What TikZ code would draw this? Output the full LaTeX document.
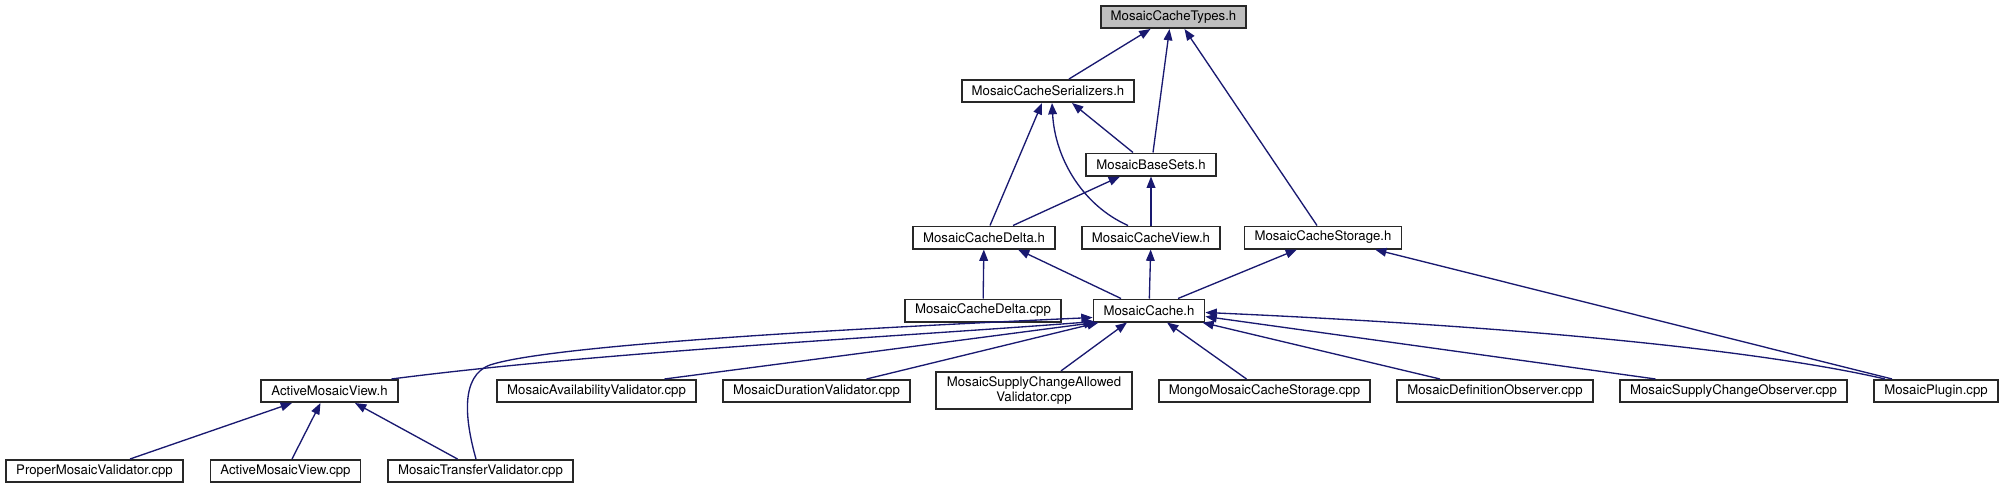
\documentclass[tikz,border=0pt]{standalone}
\usepackage{fontspec}
\setmainfont{TeX Gyre Heros}
\usepackage{tikz}
\usetikzlibrary{arrows.meta,calc}
\definecolor{azulnoche}{RGB}{25,25,112}
\definecolor{borde}{RGB}{40,40,40}
\definecolor{grisraiz}{RGB}{191,191,191}

\begin{document}
\begin{tikzpicture}[x=0.75pt, y=-0.75pt,
  caja/.style={draw=borde, line width=1.4pt, fill=white, minimum height=16.6pt,
               inner xsep=7.5pt, inner ysep=1pt,
               font=\fontsize{9.9pt}{11pt}\selectfont},
  raiz/.style={caja, fill=grisraiz},
  flecha/.style={-{Triangle[length=8.5pt,width=6.5pt]}, line width=1pt,
                 color=azulnoche}]
  \useasboundingbox (0,0) rectangle (2005,489);
  % Cabeceras
  \node[raiz] (tipos) at (1173.5,17) {MosaicCacheTypes.h};
  \node[caja] (serial) at (1048,91) {MosaicCacheSerializers.h};
  \node[caja] (basesets) at (1151,164.5) {MosaicBaseSets.h};
  \node[caja] (deltah) at (984,237.5) {MosaicCacheDelta.h};
  \node[caja] (viewh) at (1151,237.5) {MosaicCacheView.h};
  \node[caja] (storageh) at (1323,237.5) {MosaicCacheStorage.h};
  \node[caja] (deltacpp) at (983,310.5) {MosaicCacheDelta.cpp};
  \node[caja] (cacheh) at (1149,310.5) {MosaicCache.h};
  % Incluyen MosaicCache.h
  \node[caja] (activeh) at (329.5,391) {ActiveMosaicView.h};
  \node[caja] (availability) at (596.5,391) {MosaicAvailabilityValidator.cpp};
  \node[caja] (duration) at (816.5,391) {MosaicDurationValidator.cpp};
  \node[caja, align=center, minimum width=147.3pt, minimum height=28pt]
       (supplyallowed) at (1034,390.5) {MosaicSupplyChangeAllowed\\Validator.cpp};
  \node[caja] (mongo) at (1264.5,391) {MongoMosaicCacheStorage.cpp};
  \node[caja] (definition) at (1495,391) {MosaicDefinitionObserver.cpp};
  \node[caja] (supplyobs) at (1733.5,391) {MosaicSupplyChangeObserver.cpp};
  \node[caja] (plugin) at (1936,391) {MosaicPlugin.cpp};
  % Incluyen ActiveMosaicView.h
  \node[caja] (proper) at (94.5,471) {ProperMosaicValidator.cpp};
  \node[caja] (activecpp) at (285.5,471) {ActiveMosaicView.cpp};
  \node[caja] (transfer) at (480.5,471) {MosaicTransferValidator.cpp};
  % Flechas superiores
  \draw[flecha] ($(serial.north)+(21,0)$) -- ($(tipos.south)+(-23,0)$);
  \draw[flecha] ($(basesets.north)+(2,0)$) -- ($(tipos.south)+(-4,0)$);
  \draw[flecha] ($(storageh.north)+(-6,0)$) -- ($(tipos.south)+(11,0)$);
  \draw[flecha] ($(deltah.north)+(6,0)$) -- ($(serial.south)+(-6,0)$);
  \draw[flecha] ($(viewh.north)+(-23,0)$) .. controls +(-45,-20) and +(3,56)
       .. ($(serial.south)+(4,0)$);
  \draw[flecha] ($(basesets.north)+(-18,0)$) -- ($(serial.south)+(24,0)$);
  \draw[flecha] ($(deltah.north)+(29,0)$) -- ($(basesets.south)+(-31,0)$);
  \draw[flecha] (viewh) -- (basesets);
  \draw[flecha] (deltacpp) -- (deltah);
  \draw[flecha] ($(cacheh.north)+(-28,0)$) -- ($(deltah.south)+(34,0)$);
  \draw[flecha] (cacheh) -- (viewh);
  \draw[flecha] ($(cacheh.north)+(29,0)$) -- ($(storageh.south)+(-26,0)$);
  \draw[flecha] ($(plugin.north)+(-44,0)$) -- ($(storageh.south)+(52,0)$);
  % Flechas hacia MosaicCache.h
  \draw[flecha] ($(activeh.north)+(62,0)$) .. controls +(208,-27) and +(-194,15)
       .. ($(cacheh.south west)+(2,-1)$);
  \draw[flecha] ($(transfer.north)+(-4.5,0)$) .. controls +(-11,-39) and +(-30,11)
       .. (490,365) .. controls +(60,-20) and +(-242,11)
       .. ($(cacheh.south west)+(0,-5)$);
  \draw[flecha] ($(availability.north)+(68,0)$) -- ($(cacheh.south west)+(3,0)$);
  \draw[flecha] ($(duration.north)+(50,0)$) -- ($(cacheh.south west)+(6,0)$);
  \draw[flecha] ($(supplyallowed.north)+(27,0)$) -- ($(cacheh.south)+(-22,0)$);
  \draw[flecha] ($(mongo.north)+(-18,0)$) -- ($(cacheh.south)+(18,0)$);
  \draw[flecha] ($(definition.north)+(-55,0)$) -- ($(cacheh.south east)+(-3,0)$);
  \draw[flecha] ($(supplyobs.north)+(-78,0)$) -- ($(cacheh.east)+(0,6)$);
  \draw[flecha] ($(plugin.north)+(-51,0)$) .. controls +(-135,-31) and +(294,13)
       .. ($(cacheh.east)+(0,2)$);
  % Flechas hacia ActiveMosaicView.h
  \draw[flecha] ($(proper.north)+(35.5,0)$) -- ($(activeh.south)+(-37.5,0)$);
  \draw[flecha] ($(activecpp.north)+(6.5,0)$) -- ($(activeh.south)+(-9,0)$);
  \draw[flecha] ($(transfer.north)+(-23,0)$) -- ($(activeh.south)+(25.5,0)$);
\end{tikzpicture}
\end{document}
